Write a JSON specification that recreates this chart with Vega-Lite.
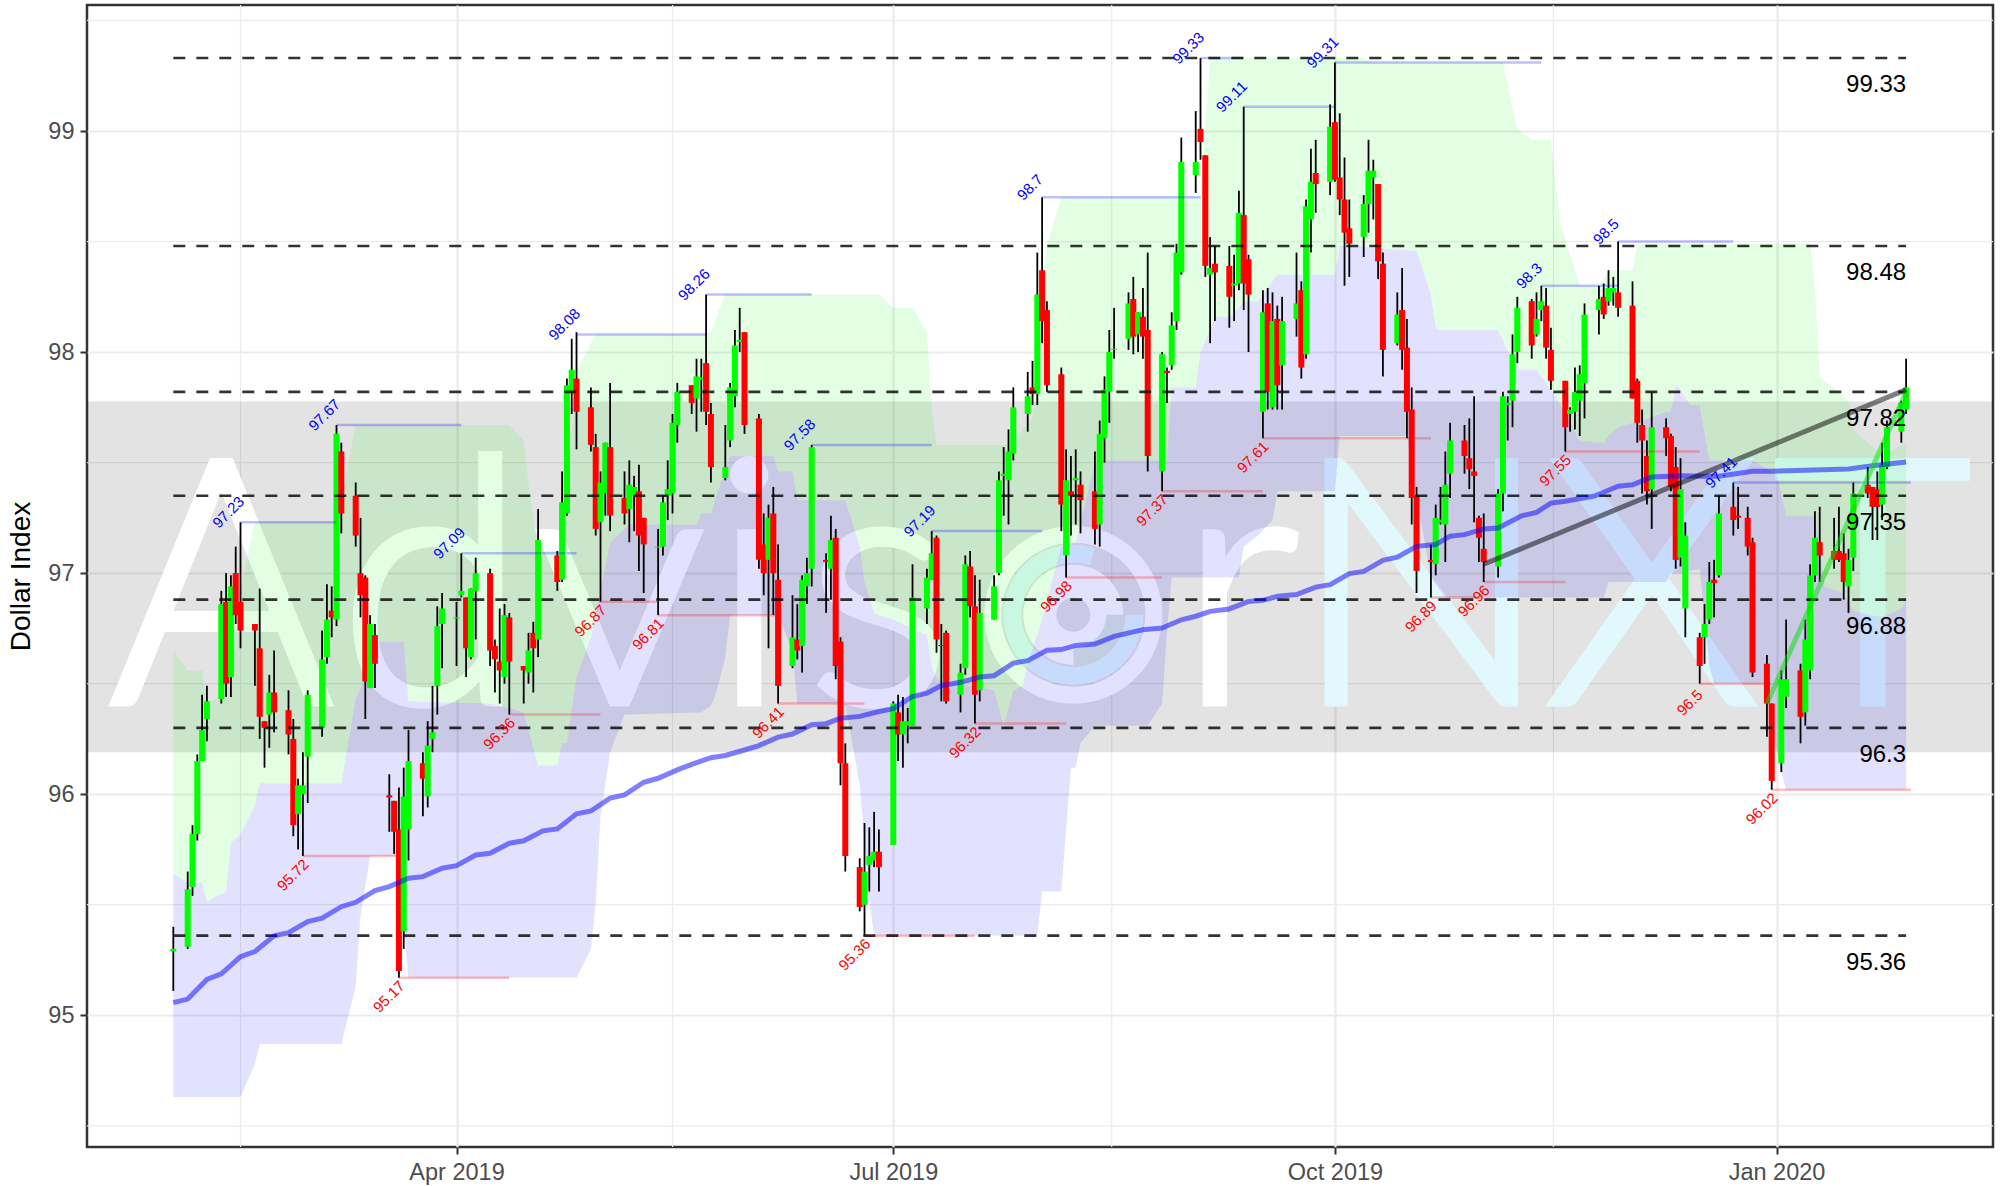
{"$schema":"https://vega.github.io/schema/vega-lite/v6.json","width":1906,"height":1142,"autosize":{"type":"none"},"padding":{"left":87,"top":5,"right":20,"bottom":39},"background":"white","config":{"font":"Liberation Sans","view":{"stroke":"#333333","strokeWidth":2.5}},
"datasets":{
"minorx":[{"t":"2019-02-15"},{"t":"2019-05-16"},{"t":"2019-08-15T12:00:00Z"},{"t":"2019-11-15T12:00:00Z"}],
"minory":[{"v":94.5},{"v":95.5},{"v":96.5},{"v":97.5},{"v":98.5},{"v":99.5}],
"band":[{"lo":96.19,"hi":97.776}],
"letters":[{"t":"2019-02-11","v":96.415,"s":"A","g":"w"},{"t":"2019-03-27","v":96.415,"s":"d","g":"w"},{"t":"2019-05-05","v":96.415,"s":"v","g":"w"},{"t":"2019-06-01","v":96.415,"s":"i","g":"w"},{"t":"2019-06-28","v":96.415,"s":"s","g":"w"},{"t":"2019-09-11","v":96.415,"s":"r","g":"w"},{"t":"2019-10-19","v":96.415,"s":"N","g":"c"},{"t":"2019-12-06","v":96.415,"s":"X","g":"c"},{"t":"2020-01-21","v":96.415,"s":"T","g":"c"}],
"logo":[{"t":"2019-08-07T12:00:00Z","v":96.812}],
"ribbon":[
{"t":"2019-02-01","u":96.65,"m":95.64,"b":94.63},{"t":"2019-02-04","u":96.56,"m":95.6,"b":94.63},{"t":"2019-02-07","u":96.56,"m":95.6,"b":94.63},{"t":"2019-02-08","u":96.42,"m":95.51,"b":94.63},{"t":"2019-02-10","u":96.43,"m":95.54,"b":94.63},{"t":"2019-02-12","u":96.63,"m":95.56,"b":94.63},{"t":"2019-02-13","u":96.73,"m":95.78,"b":94.63},{"t":"2019-02-15","u":96.93,"m":95.82,"b":94.63},{"t":"2019-02-18","u":97.23,"m":95.95,"b":94.78},{"t":"2019-02-19","u":97.23,"m":96.05,"b":94.87},{"t":"2019-03-07","u":97.23,"m":96.05,"b":94.87},{"t":"2019-03-08","u":97.34,"m":96.05,"b":94.87},{"t":"2019-03-11","u":97.67,"m":96.43,"b":95.13},{"t":"2019-03-12","u":97.67,"m":96.48,"b":95.45},{"t":"2019-03-14","u":97.67,"m":96.59,"b":95.72},{"t":"2019-03-16","u":97.67,"m":96.69,"b":95.72},{"t":"2019-03-20","u":97.67,"m":96.69,"b":95.72},{"t":"2019-03-21","u":97.67,"m":96.69,"b":95.4},{"t":"2019-03-22","u":97.67,"m":96.42,"b":95.17},{"t":"2019-04-08","u":97.67,"m":96.41,"b":95.17},{"t":"2019-04-12","u":97.67,"m":96.39,"b":95.17},{"t":"2019-04-15","u":97.6,"m":96.37,"b":95.17},{"t":"2019-04-16","u":97.4,"m":96.29,"b":95.17},{"t":"2019-04-18","u":97.1,"m":96.13,"b":95.17},{"t":"2019-04-22","u":97.1,"m":96.13,"b":95.17},{"t":"2019-04-23","u":97.1,"m":96.23,"b":95.17},{"t":"2019-04-24","u":97.37,"m":96.23,"b":95.17},{"t":"2019-04-26","u":97.91,"m":96.53,"b":95.17},{"t":"2019-04-29","u":98.04,"m":96.71,"b":95.3},{"t":"2019-04-30","u":98.08,"m":96.82,"b":95.51},{"t":"2019-05-01","u":98.08,"m":96.92,"b":95.9},{"t":"2019-05-03","u":98.08,"m":97.14,"b":96.19},{"t":"2019-05-06","u":98.08,"m":97.2,"b":96.36},{"t":"2019-05-07","u":98.08,"m":97.22,"b":96.36},{"t":"2019-05-21","u":98.08,"m":97.22,"b":96.37},{"t":"2019-05-22","u":98.08,"m":97.27,"b":96.37},{"t":"2019-05-24","u":98.09,"m":97.27,"b":96.4},{"t":"2019-05-25","u":98.15,"m":97.34,"b":96.45},{"t":"2019-05-27","u":98.26,"m":97.47,"b":96.62},{"t":"2019-05-28","u":98.26,"m":97.53,"b":96.81},{"t":"2019-06-06","u":98.26,"m":97.53,"b":96.81},{"t":"2019-06-07","u":98.26,"m":97.46,"b":96.81},{"t":"2019-06-10","u":98.26,"m":97.46,"b":96.65},{"t":"2019-06-11","u":98.26,"m":97.33,"b":96.41},{"t":"2019-06-21","u":98.26,"m":97.33,"b":96.41},{"t":"2019-06-24","u":98.26,"m":97.12,"b":96.04},{"t":"2019-06-25","u":98.26,"m":96.96,"b":95.78},{"t":"2019-06-26","u":98.26,"m":96.89,"b":95.52},{"t":"2019-06-27","u":98.26,"m":96.82,"b":95.36},{"t":"2019-06-28","u":98.26,"m":96.81,"b":95.36},{"t":"2019-07-01","u":98.2,"m":96.79,"b":95.36},{"t":"2019-07-03","u":98.2,"m":96.77,"b":95.36},{"t":"2019-07-05","u":98.2,"m":96.75,"b":95.36},{"t":"2019-07-08","u":98.09,"m":96.72,"b":95.36},{"t":"2019-07-09","u":97.74,"m":96.58,"b":95.36},{"t":"2019-07-10","u":97.58,"m":96.52,"b":95.36},{"t":"2019-07-22","u":97.58,"m":96.47,"b":95.36},{"t":"2019-07-24","u":97.58,"m":96.31,"b":95.36},{"t":"2019-07-25","u":97.58,"m":96.39,"b":95.36},{"t":"2019-07-26","u":97.6,"m":96.47,"b":95.36},{"t":"2019-07-27","u":97.62,"m":96.48,"b":95.36},{"t":"2019-07-28","u":97.65,"m":96.49,"b":95.36},{"t":"2019-07-29","u":97.67,"m":96.59,"b":95.36},{"t":"2019-07-30","u":97.7,"m":96.66,"b":95.36},{"t":"2019-07-31","u":97.85,"m":96.72,"b":95.36},{"t":"2019-08-01","u":98.3,"m":96.79,"b":95.56},{"t":"2019-08-02","u":98.48,"m":96.88,"b":95.56},{"t":"2019-08-05","u":98.7,"m":97.12,"b":95.56},{"t":"2019-08-07","u":98.7,"m":97.13,"b":96.12},{"t":"2019-08-08","u":98.7,"m":97.14,"b":96.12},{"t":"2019-08-09","u":98.7,"m":97.23,"b":96.23},{"t":"2019-08-12","u":98.7,"m":97.5,"b":96.31},{"t":"2019-08-15","u":98.7,"m":97.51,"b":96.31},{"t":"2019-08-23","u":98.7,"m":97.51,"b":96.31},{"t":"2019-08-26","u":98.7,"m":97.51,"b":96.41},{"t":"2019-08-27","u":98.7,"m":97.51,"b":96.73},{"t":"2019-08-28","u":98.7,"m":97.84,"b":96.98},{"t":"2019-09-02","u":98.7,"m":97.84,"b":96.98},{"t":"2019-09-03","u":98.7,"m":98.0,"b":96.98},{"t":"2019-09-05","u":99.33,"m":98.1,"b":96.98},{"t":"2019-09-06","u":99.33,"m":98.16,"b":96.98},{"t":"2019-09-09","u":99.33,"m":98.16,"b":96.98},{"t":"2019-09-11","u":99.33,"m":98.2,"b":96.98},{"t":"2019-09-12","u":99.33,"m":98.23,"b":97.12},{"t":"2019-09-15","u":99.33,"m":98.23,"b":97.17},{"t":"2019-09-18","u":99.33,"m":98.32,"b":97.24},{"t":"2019-09-19","u":99.33,"m":98.35,"b":97.37},{"t":"2019-10-01","u":99.33,"m":98.35,"b":97.37},{"t":"2019-10-02","u":99.33,"m":98.48,"b":97.62},{"t":"2019-10-07","u":99.33,"m":98.48,"b":97.62},{"t":"2019-10-09","u":99.31,"m":98.47,"b":97.62},{"t":"2019-10-16","u":99.31,"m":98.46,"b":97.62},{"t":"2019-10-18","u":99.31,"m":98.46,"b":97.35},{"t":"2019-10-21","u":99.31,"m":98.26,"b":96.98},{"t":"2019-10-22","u":99.31,"m":98.11,"b":96.95},{"t":"2019-10-23","u":99.31,"m":98.1,"b":96.92},{"t":"2019-10-24","u":99.31,"m":98.1,"b":96.89},{"t":"2019-11-04","u":99.31,"m":98.1,"b":96.89},{"t":"2019-11-05","u":99.31,"m":98.05,"b":96.89},{"t":"2019-11-07","u":99.1,"m":97.96,"b":96.89},{"t":"2019-11-08","u":99.01,"m":97.92,"b":96.89},{"t":"2019-11-11","u":98.96,"m":97.92,"b":96.89},{"t":"2019-11-12","u":98.96,"m":97.92,"b":96.89},{"t":"2019-11-15","u":98.96,"m":97.83,"b":96.89},{"t":"2019-11-16","u":98.75,"m":97.8,"b":96.89},{"t":"2019-11-17","u":98.58,"m":97.76,"b":96.89},{"t":"2019-11-20","u":98.37,"m":97.64,"b":96.89},{"t":"2019-11-21","u":98.3,"m":97.6,"b":96.89},{"t":"2019-11-25","u":98.3,"m":97.59,"b":96.89},{"t":"2019-11-26","u":98.33,"m":97.59,"b":96.89},{"t":"2019-11-27","u":98.37,"m":97.62,"b":96.96},{"t":"2019-11-29","u":98.37,"m":97.66,"b":96.96},{"t":"2019-12-02","u":98.37,"m":97.68,"b":96.96},{"t":"2019-12-03","u":98.49,"m":97.68,"b":96.96},{"t":"2019-12-09","u":98.49,"m":97.73,"b":96.96},{"t":"2019-12-10","u":98.49,"m":97.73,"b":97.0},{"t":"2019-12-11","u":98.49,"m":97.85,"b":97.0},{"t":"2019-12-12","u":98.49,"m":97.83,"b":97.0},{"t":"2019-12-14","u":98.49,"m":97.76,"b":97.01},{"t":"2019-12-16","u":98.49,"m":97.76,"b":97.02},{"t":"2019-12-18","u":98.49,"m":97.51,"b":96.58},{"t":"2019-12-19","u":98.49,"m":97.51,"b":96.5},{"t":"2019-12-27","u":98.49,"m":97.51,"b":96.5},{"t":"2019-12-30","u":98.49,"m":97.47,"b":96.5},{"t":"2019-12-31","u":98.49,"m":97.46,"b":96.3},{"t":"2020-01-01","u":98.49,"m":97.45,"b":96.2},{"t":"2020-01-02","u":98.49,"m":97.36,"b":96.1},{"t":"2020-01-03","u":98.49,"m":97.26,"b":96.02},{"t":"2020-01-08","u":98.49,"m":97.26,"b":96.02},{"t":"2020-01-09","u":98.3,"m":97.26,"b":96.02},{"t":"2020-01-10","u":97.89,"m":97.1,"b":96.02},{"t":"2020-01-11","u":97.87,"m":96.94,"b":96.02},{"t":"2020-01-15","u":97.8,"m":96.91,"b":96.02},{"t":"2020-01-16","u":97.78,"m":96.87,"b":96.02},{"t":"2020-01-17","u":97.65,"m":96.83,"b":96.02},{"t":"2020-01-21","u":97.57,"m":96.81,"b":96.02},{"t":"2020-01-23","u":97.53,"m":96.8,"b":96.02},{"t":"2020-01-27","u":97.58,"m":96.84,"b":96.02},{"t":"2020-01-28","u":97.6,"m":96.88,"b":96.02}],
"candles":[
{"t":"2019-02-01","o":95.29,"h":95.4,"l":95.11,"c":95.3,"s":"u"},{"t":"2019-02-04","o":95.31,"h":95.65,"l":95.3,"c":95.57,"s":"u"},{"t":"2019-02-05","o":95.58,"h":95.86,"l":95.54,"c":95.82,"s":"u"},{"t":"2019-02-06","o":95.82,"h":96.18,"l":95.79,"c":96.15,"s":"u"},{"t":"2019-02-07","o":96.15,"h":96.45,"l":96.15,"c":96.29,"s":"u"},{"t":"2019-02-08","o":96.34,"h":96.49,"l":96.24,"c":96.42,"s":"u"},
{"t":"2019-02-11","o":96.43,"h":96.92,"l":96.41,"c":96.86,"s":"u"},{"t":"2019-02-12","o":96.87,"h":97.0,"l":96.44,"c":96.5,"s":"d"},{"t":"2019-02-13","o":96.53,"h":96.99,"l":96.44,"c":96.94,"s":"u"},{"t":"2019-02-14","o":97.0,"h":97.12,"l":96.77,"c":96.81,"s":"d"},{"t":"2019-02-15","o":96.87,"h":97.23,"l":96.66,"c":96.74,"s":"d"},
{"t":"2019-02-18","o":96.77,"h":96.77,"l":96.49,"c":96.74,"s":"d"},{"t":"2019-02-19","o":96.66,"h":96.93,"l":96.25,"c":96.35,"s":"d"},{"t":"2019-02-20","o":96.33,"h":96.33,"l":96.12,"c":96.3,"s":"d"},{"t":"2019-02-21","o":96.36,"h":96.54,"l":96.21,"c":96.46,"s":"u"},{"t":"2019-02-22","o":96.46,"h":96.65,"l":96.28,"c":96.37,"s":"d"},
{"t":"2019-02-25","o":96.38,"h":96.47,"l":96.18,"c":96.27,"s":"d"},{"t":"2019-02-26","o":96.25,"h":96.34,"l":95.81,"c":95.86,"s":"d"},{"t":"2019-02-27","o":95.91,"h":96.07,"l":95.75,"c":96.04,"s":"u"},{"t":"2019-02-28","o":96.0,"h":96.19,"l":95.72,"c":96.04,"s":"u"},{"t":"2019-03-01","o":96.17,"h":96.47,"l":95.96,"c":96.45,"s":"u"},
{"t":"2019-03-04","o":96.3,"h":96.74,"l":96.26,"c":96.61,"s":"u"},{"t":"2019-03-05","o":96.62,"h":96.95,"l":96.59,"c":96.79,"s":"u"},{"t":"2019-03-06","o":96.83,"h":96.94,"l":96.71,"c":96.8,"s":"d"},{"t":"2019-03-07","o":96.79,"h":97.67,"l":96.76,"c":97.63,"s":"u"},{"t":"2019-03-08","o":97.55,"h":97.59,"l":97.18,"c":97.27,"s":"d"},
{"t":"2019-03-11","o":97.35,"h":97.41,"l":97.12,"c":97.17,"s":"d"},{"t":"2019-03-12","o":97.0,"h":97.25,"l":96.8,"c":96.9,"s":"d"},{"t":"2019-03-13","o":96.98,"h":96.99,"l":96.34,"c":96.51,"s":"d"},{"t":"2019-03-14","o":96.48,"h":96.81,"l":96.48,"c":96.77,"s":"u"},{"t":"2019-03-15","o":96.72,"h":96.77,"l":96.48,"c":96.59,"s":"d"},
{"t":"2019-03-18","o":95.995,"h":96.09,"l":95.83,"c":95.985,"s":"d"},{"t":"2019-03-19","o":95.97,"h":95.97,"l":95.73,"c":95.83,"s":"d"},{"t":"2019-03-20","o":95.84,"h":96.03,"l":95.17,"c":95.2,"s":"d"},{"t":"2019-03-21","o":95.38,"h":96.12,"l":95.3,"c":95.99,"s":"u"},{"t":"2019-03-22","o":95.84,"h":96.29,"l":95.7,"c":96.15,"s":"u"},
{"t":"2019-03-25","o":96.14,"h":96.19,"l":95.9,"c":96.07,"s":"d"},{"t":"2019-03-26","o":95.99,"h":96.33,"l":95.94,"c":96.22,"s":"u"},{"t":"2019-03-27","o":96.25,"h":96.49,"l":96.19,"c":96.28,"s":"u"},{"t":"2019-03-28","o":96.49,"h":96.85,"l":96.36,"c":96.76,"s":"u"},{"t":"2019-03-29","o":96.77,"h":96.91,"l":96.57,"c":96.84,"s":"u"},
{"t":"2019-04-01","o":96.795,"h":96.87,"l":96.58,"c":96.8,"s":"u"},{"t":"2019-04-02","o":96.9,"h":97.09,"l":96.89,"c":96.92,"s":"u"},{"t":"2019-04-03","o":96.89,"h":96.89,"l":96.53,"c":96.66,"s":"d"},{"t":"2019-04-04","o":96.62,"h":96.93,"l":96.61,"c":96.93,"s":"u"},{"t":"2019-04-05","o":96.92,"h":97.07,"l":96.7,"c":97.0,"s":"u"},
{"t":"2019-04-08","o":97.0,"h":97.02,"l":96.58,"c":96.65,"s":"d"},{"t":"2019-04-09","o":96.67,"h":96.7,"l":96.46,"c":96.61,"s":"d"},{"t":"2019-04-10","o":96.6,"h":96.84,"l":96.41,"c":96.56,"s":"d"},{"t":"2019-04-11","o":96.53,"h":96.86,"l":96.5,"c":96.81,"s":"u"},{"t":"2019-04-12","o":96.8,"h":96.82,"l":96.36,"c":96.6,"s":"d"},
{"t":"2019-04-15","o":96.58,"h":96.58,"l":96.41,"c":96.56,"s":"d"},{"t":"2019-04-16","o":96.55,"h":96.73,"l":96.5,"c":96.65,"s":"u"},{"t":"2019-04-17","o":96.73,"h":96.78,"l":96.46,"c":96.66,"s":"d"},{"t":"2019-04-18","o":96.7,"h":97.29,"l":96.62,"c":97.15,"s":"u"},
{"t":"2019-04-22","o":97.08,"h":97.1,"l":96.92,"c":96.96,"s":"d"},{"t":"2019-04-23","o":96.97,"h":97.46,"l":96.96,"c":97.32,"s":"u"},{"t":"2019-04-24","o":97.27,"h":97.88,"l":97.26,"c":97.85,"s":"u"},{"t":"2019-04-25","o":97.82,"h":98.06,"l":97.72,"c":97.92,"s":"u"},{"t":"2019-04-26","o":97.88,"h":98.09,"l":97.56,"c":97.73,"s":"d"},
{"t":"2019-04-29","o":97.75,"h":97.84,"l":97.55,"c":97.58,"s":"d"},{"t":"2019-04-30","o":97.57,"h":97.63,"l":97.17,"c":97.2,"s":"d"},{"t":"2019-05-01","o":97.23,"h":97.46,"l":96.87,"c":97.41,"s":"u"},{"t":"2019-05-02","o":97.36,"h":97.59,"l":97.26,"c":97.59,"s":"u"},{"t":"2019-05-03","o":97.57,"h":97.86,"l":97.19,"c":97.26,"s":"d"},
{"t":"2019-05-06","o":97.34,"h":97.46,"l":97.22,"c":97.27,"s":"d"},{"t":"2019-05-07","o":97.29,"h":97.51,"l":97.14,"c":97.4,"s":"u"},{"t":"2019-05-08","o":97.35,"h":97.44,"l":97.19,"c":97.39,"s":"u"},{"t":"2019-05-09","o":97.37,"h":97.49,"l":97.01,"c":97.17,"s":"d"},{"t":"2019-05-10","o":97.25,"h":97.25,"l":96.91,"c":97.13,"s":"d"},
{"t":"2019-05-13","o":97.115,"h":97.2,"l":96.81,"c":97.12,"s":"u"},{"t":"2019-05-14","o":97.12,"h":97.35,"l":97.08,"c":97.32,"s":"u"},{"t":"2019-05-15","o":97.35,"h":97.51,"l":97.24,"c":97.38,"s":"u"},{"t":"2019-05-16","o":97.36,"h":97.72,"l":97.27,"c":97.68,"s":"u"},{"t":"2019-05-17","o":97.67,"h":97.86,"l":97.59,"c":97.82,"s":"u"},
{"t":"2019-05-20","o":97.85,"h":97.85,"l":97.72,"c":97.77,"s":"d"},{"t":"2019-05-21","o":97.79,"h":97.97,"l":97.64,"c":97.89,"s":"u"},{"t":"2019-05-22","o":97.875,"h":97.97,"l":97.73,"c":97.885,"s":"u"},{"t":"2019-05-23","o":97.95,"h":98.26,"l":97.67,"c":97.73,"s":"d"},{"t":"2019-05-24","o":97.72,"h":97.77,"l":97.41,"c":97.48,"s":"d"},
{"t":"2019-05-27","o":97.43,"h":97.67,"l":97.42,"c":97.48,"s":"u"},{"t":"2019-05-28","o":97.6,"h":97.86,"l":97.57,"c":97.84,"s":"u"},{"t":"2019-05-29","o":97.8,"h":98.1,"l":97.75,"c":98.03,"s":"u"},{"t":"2019-05-30","o":98.045,"h":98.2,"l":98.0,"c":98.055,"s":"u"},{"t":"2019-05-31","o":98.09,"h":98.09,"l":97.63,"c":97.67,"s":"d"},
{"t":"2019-06-03","o":97.7,"h":97.72,"l":97.02,"c":97.06,"s":"d"},{"t":"2019-06-04","o":97.13,"h":97.27,"l":96.9,"c":97.0,"s":"d"},{"t":"2019-06-05","o":97.06,"h":97.31,"l":96.66,"c":97.25,"s":"u"},{"t":"2019-06-06","o":97.27,"h":97.39,"l":96.81,"c":97.0,"s":"d"},{"t":"2019-06-07","o":96.97,"h":97.13,"l":96.41,"c":96.49,"s":"d"},
{"t":"2019-06-10","o":96.58,"h":96.9,"l":96.57,"c":96.71,"s":"u"},{"t":"2019-06-11","o":96.7,"h":96.86,"l":96.61,"c":96.65,"s":"d"},{"t":"2019-06-12","o":96.67,"h":96.99,"l":96.55,"c":96.97,"s":"u"},{"t":"2019-06-13","o":96.94,"h":97.07,"l":96.86,"c":97.0,"s":"u"},{"t":"2019-06-14","o":97.02,"h":97.58,"l":96.94,"c":97.57,"s":"u"},
{"t":"2019-06-17","o":97.06,"h":97.09,"l":96.82,"c":97.05,"s":"d"},{"t":"2019-06-18","o":97.02,"h":97.26,"l":96.88,"c":97.15,"s":"u"},{"t":"2019-06-19","o":97.16,"h":97.2,"l":96.52,"c":96.58,"s":"d"},{"t":"2019-06-20","o":96.69,"h":96.71,"l":96.04,"c":96.14,"s":"d"},{"t":"2019-06-21","o":96.14,"h":96.23,"l":95.65,"c":95.72,"s":"d"},
{"t":"2019-06-24","o":95.67,"h":95.71,"l":95.47,"c":95.49,"s":"d"},{"t":"2019-06-25","o":95.5,"h":95.87,"l":95.36,"c":95.65,"s":"u"},{"t":"2019-06-26","o":95.68,"h":95.85,"l":95.56,"c":95.72,"s":"u"},{"t":"2019-06-27","o":95.7,"h":95.92,"l":95.67,"c":95.74,"s":"u"},{"t":"2019-06-28","o":95.74,"h":95.84,"l":95.56,"c":95.67,"s":"d"},
{"t":"2019-07-01","o":95.77,"h":96.42,"l":95.77,"c":96.41,"s":"u"},{"t":"2019-07-02","o":96.37,"h":96.45,"l":96.15,"c":96.27,"s":"d"},{"t":"2019-07-03","o":96.27,"h":96.44,"l":96.12,"c":96.33,"s":"u"},{"t":"2019-07-04","o":96.31,"h":96.39,"l":96.23,"c":96.33,"s":"u"},{"t":"2019-07-05","o":96.31,"h":97.04,"l":96.31,"c":96.89,"s":"u"},
{"t":"2019-07-08","o":96.84,"h":97.02,"l":96.77,"c":96.98,"s":"u"},{"t":"2019-07-09","o":96.97,"h":97.19,"l":96.97,"c":97.09,"s":"u"},{"t":"2019-07-10","o":97.16,"h":97.17,"l":96.64,"c":96.7,"s":"d"},{"t":"2019-07-11","o":96.675,"h":96.77,"l":96.42,"c":96.67,"s":"d"},{"t":"2019-07-12","o":96.73,"h":96.74,"l":96.41,"c":96.42,"s":"d"},
{"t":"2019-07-15","o":96.45,"h":96.59,"l":96.37,"c":96.55,"s":"u"},{"t":"2019-07-16","o":96.57,"h":97.08,"l":96.54,"c":97.04,"s":"u"},{"t":"2019-07-17","o":97.03,"h":97.1,"l":96.8,"c":96.85,"s":"d"},{"t":"2019-07-18","o":96.85,"h":96.99,"l":96.32,"c":96.45,"s":"d"},{"t":"2019-07-19","o":96.47,"h":96.97,"l":96.42,"c":96.82,"s":"u"},
{"t":"2019-07-22","o":96.79,"h":96.99,"l":96.79,"c":96.94,"s":"u"},{"t":"2019-07-23","o":97.0,"h":97.46,"l":96.99,"c":97.42,"s":"u"},{"t":"2019-07-24","o":97.44,"h":97.57,"l":97.26,"c":97.45,"s":"u"},{"t":"2019-07-25","o":97.42,"h":97.65,"l":97.22,"c":97.55,"s":"u"},{"t":"2019-07-26","o":97.54,"h":97.84,"l":97.51,"c":97.75,"s":"u"},
{"t":"2019-07-29","o":97.72,"h":97.91,"l":97.64,"c":97.8,"s":"u"},{"t":"2019-07-30","o":97.84,"h":97.96,"l":97.76,"c":97.81,"s":"d"},{"t":"2019-07-31","o":97.81,"h":98.45,"l":97.76,"c":98.26,"s":"u"},{"t":"2019-08-01","o":98.37,"h":98.7,"l":98.04,"c":98.14,"s":"d"},{"t":"2019-08-02","o":98.19,"h":98.23,"l":97.82,"c":97.85,"s":"d"},
{"t":"2019-08-05","o":97.9,"h":97.93,"l":97.19,"c":97.31,"s":"d"},{"t":"2019-08-06","o":97.08,"h":97.56,"l":96.98,"c":97.42,"s":"u"},{"t":"2019-08-07","o":97.37,"h":97.53,"l":97.17,"c":97.35,"s":"d"},{"t":"2019-08-08","o":97.42,"h":97.56,"l":97.22,"c":97.43,"s":"u"},{"t":"2019-08-09","o":97.4,"h":97.46,"l":97.18,"c":97.33,"s":"d"},
{"t":"2019-08-12","o":97.37,"h":97.55,"l":97.13,"c":97.2,"s":"d"},{"t":"2019-08-13","o":97.22,"h":97.69,"l":97.12,"c":97.63,"s":"u"},{"t":"2019-08-14","o":97.61,"h":97.89,"l":97.5,"c":97.83,"s":"u"},{"t":"2019-08-15","o":97.82,"h":98.1,"l":97.68,"c":98.0,"s":"u"},{"t":"2019-08-16","o":98.01,"h":98.2,"l":97.97,"c":98.015,"s":"u"},
{"t":"2019-08-19","o":98.06,"h":98.27,"l":98.01,"c":98.22,"s":"u"},{"t":"2019-08-20","o":98.24,"h":98.34,"l":97.99,"c":98.07,"s":"d"},{"t":"2019-08-21","o":98.08,"h":98.18,"l":98.0,"c":98.18,"s":"u"},{"t":"2019-08-22","o":98.16,"h":98.29,"l":97.97,"c":98.07,"s":"d"},{"t":"2019-08-23","o":98.1,"h":98.45,"l":97.46,"c":97.53,"s":"d"},
{"t":"2019-08-26","o":97.46,"h":98.0,"l":97.37,"c":97.99,"s":"u"},{"t":"2019-08-27","o":97.915,"h":97.93,"l":97.77,"c":97.905,"s":"d"},{"t":"2019-08-28","o":97.94,"h":98.18,"l":97.92,"c":98.12,"s":"u"},{"t":"2019-08-29","o":98.14,"h":98.49,"l":98.1,"c":98.45,"s":"u"},{"t":"2019-08-30","o":98.36,"h":98.97,"l":98.35,"c":98.86,"s":"u"},
{"t":"2019-09-02","o":98.8,"h":99.09,"l":98.72,"c":98.86,"s":"u"},{"t":"2019-09-03","o":99.01,"h":99.33,"l":98.87,"c":98.95,"s":"d"},{"t":"2019-09-04","o":98.89,"h":98.89,"l":98.34,"c":98.39,"s":"d"},{"t":"2019-09-05","o":98.35,"h":98.52,"l":98.04,"c":98.38,"s":"u"},{"t":"2019-09-06","o":98.4,"h":98.48,"l":98.14,"c":98.36,"s":"d"},
{"t":"2019-09-09","o":98.39,"h":98.48,"l":98.11,"c":98.25,"s":"d"},{"t":"2019-09-10","o":98.3,"h":98.44,"l":98.14,"c":98.31,"s":"u"},{"t":"2019-09-11","o":98.31,"h":98.73,"l":98.28,"c":98.63,"s":"u"},{"t":"2019-09-12","o":98.62,"h":99.11,"l":98.19,"c":98.31,"s":"d"},{"t":"2019-09-13","o":98.42,"h":98.44,"l":98.0,"c":98.26,"s":"d"},
{"t":"2019-09-16","o":97.73,"h":98.28,"l":97.61,"c":98.18,"s":"u"},{"t":"2019-09-17","o":98.22,"h":98.29,"l":97.74,"c":97.82,"s":"d"},{"t":"2019-09-18","o":97.75,"h":98.27,"l":97.74,"c":98.14,"s":"u"},{"t":"2019-09-19","o":98.15,"h":98.21,"l":97.74,"c":97.85,"s":"d"},{"t":"2019-09-20","o":97.94,"h":98.25,"l":97.74,"c":98.14,"s":"u"},
{"t":"2019-09-23","o":98.15,"h":98.45,"l":98.07,"c":98.22,"s":"u"},{"t":"2019-09-24","o":98.28,"h":98.32,"l":97.88,"c":97.93,"s":"d"},{"t":"2019-09-25","o":97.99,"h":98.69,"l":97.97,"c":98.66,"s":"u"},{"t":"2019-09-26","o":98.6,"h":98.92,"l":98.45,"c":98.77,"s":"u"},{"t":"2019-09-27","o":98.81,"h":98.96,"l":98.63,"c":98.76,"s":"d"},
{"t":"2019-09-30","o":98.77,"h":99.12,"l":98.71,"c":99.02,"s":"u"},{"t":"2019-10-01","o":99.04,"h":99.31,"l":98.77,"c":98.78,"s":"d"},{"t":"2019-10-02","o":98.79,"h":99.08,"l":98.62,"c":98.69,"s":"d"},{"t":"2019-10-03","o":98.69,"h":98.88,"l":98.3,"c":98.54,"s":"d"},{"t":"2019-10-04","o":98.56,"h":98.69,"l":98.34,"c":98.49,"s":"d"},
{"t":"2019-10-07","o":98.52,"h":98.71,"l":98.43,"c":98.67,"s":"u"},{"t":"2019-10-08","o":98.67,"h":98.96,"l":98.54,"c":98.82,"s":"u"},{"t":"2019-10-09","o":98.79,"h":98.87,"l":98.6,"c":98.82,"s":"u"},{"t":"2019-10-10","o":98.76,"h":98.76,"l":98.33,"c":98.41,"s":"d"},{"t":"2019-10-11","o":98.4,"h":98.45,"l":97.89,"c":98.01,"s":"d"},
{"t":"2019-10-14","o":98.04,"h":98.27,"l":98.03,"c":98.17,"s":"u"},{"t":"2019-10-15","o":98.19,"h":98.38,"l":97.92,"c":98.01,"s":"d"},{"t":"2019-10-16","o":98.02,"h":98.15,"l":97.61,"c":97.73,"s":"d"},{"t":"2019-10-17","o":97.74,"h":97.84,"l":97.22,"c":97.34,"s":"d"},{"t":"2019-10-18","o":97.35,"h":97.39,"l":96.91,"c":97.01,"s":"d"},
{"t":"2019-10-21","o":97.06,"h":97.13,"l":96.89,"c":97.05,"s":"d"},{"t":"2019-10-22","o":97.04,"h":97.31,"l":96.99,"c":97.25,"s":"u"},{"t":"2019-10-23","o":97.23,"h":97.39,"l":97.22,"c":97.24,"s":"u"},{"t":"2019-10-24","o":97.22,"h":97.55,"l":97.05,"c":97.4,"s":"u"},{"t":"2019-10-25","o":97.45,"h":97.68,"l":97.34,"c":97.6,"s":"u"},
{"t":"2019-10-28","o":97.6,"h":97.67,"l":97.45,"c":97.53,"s":"d"},{"t":"2019-10-29","o":97.52,"h":97.7,"l":97.38,"c":97.47,"s":"d"},{"t":"2019-10-30","o":97.46,"h":97.8,"l":97.23,"c":97.44,"s":"d"},{"t":"2019-10-31","o":97.25,"h":97.26,"l":97.05,"c":97.16,"s":"d"},{"t":"2019-11-01","o":97.11,"h":97.27,"l":96.96,"c":97.05,"s":"d"},
{"t":"2019-11-04","o":97.03,"h":97.38,"l":96.98,"c":97.36,"s":"u"},{"t":"2019-11-05","o":97.36,"h":97.82,"l":97.28,"c":97.8,"s":"u"},{"t":"2019-11-06","o":97.76,"h":97.8,"l":97.6,"c":97.77,"s":"u"},{"t":"2019-11-07","o":97.78,"h":98.08,"l":97.66,"c":97.99,"s":"u"},{"t":"2019-11-08","o":98.0,"h":98.25,"l":97.95,"c":98.2,"s":"u"},
{"t":"2019-11-11","o":98.23,"h":98.24,"l":97.97,"c":98.03,"s":"d"},{"t":"2019-11-12","o":98.08,"h":98.27,"l":98.07,"c":98.15,"s":"u"},{"t":"2019-11-13","o":98.19,"h":98.3,"l":98.14,"c":98.23,"s":"u"},{"t":"2019-11-14","o":98.21,"h":98.29,"l":97.97,"c":98.02,"s":"d"},{"t":"2019-11-15","o":98.01,"h":98.11,"l":97.83,"c":97.87,"s":"d"},
{"t":"2019-11-18","o":97.87,"h":97.87,"l":97.55,"c":97.66,"s":"d"},{"t":"2019-11-19","o":97.72,"h":97.75,"l":97.64,"c":97.74,"s":"u"},{"t":"2019-11-20","o":97.73,"h":97.93,"l":97.65,"c":97.82,"s":"u"},{"t":"2019-11-21","o":97.78,"h":97.94,"l":97.62,"c":97.9,"s":"u"},{"t":"2019-11-22","o":97.86,"h":98.22,"l":97.7,"c":98.17,"s":"u"},
{"t":"2019-11-25","o":98.19,"h":98.3,"l":98.08,"c":98.24,"s":"u"},{"t":"2019-11-26","o":98.25,"h":98.31,"l":98.15,"c":98.17,"s":"d"},{"t":"2019-11-27","o":98.23,"h":98.37,"l":98.21,"c":98.29,"s":"u"},{"t":"2019-11-28","o":98.27,"h":98.34,"l":98.21,"c":98.29,"s":"u"},{"t":"2019-11-29","o":98.27,"h":98.5,"l":98.16,"c":98.2,"s":"d"},
{"t":"2019-12-02","o":98.21,"h":98.32,"l":97.79,"c":97.79,"s":"d"},{"t":"2019-12-03","o":97.87,"h":97.88,"l":97.59,"c":97.68,"s":"d"},{"t":"2019-12-04","o":97.67,"h":97.74,"l":97.36,"c":97.6,"s":"d"},{"t":"2019-12-05","o":97.53,"h":97.6,"l":97.31,"c":97.37,"s":"d"},{"t":"2019-12-06","o":97.38,"h":97.82,"l":97.2,"c":97.66,"s":"u"},
{"t":"2019-12-09","o":97.66,"h":97.7,"l":97.53,"c":97.61,"s":"d"},{"t":"2019-12-10","o":97.62,"h":97.63,"l":97.37,"c":97.39,"s":"d"},{"t":"2019-12-11","o":97.48,"h":97.57,"l":97.02,"c":97.06,"s":"d"},{"t":"2019-12-12","o":97.07,"h":97.52,"l":97.03,"c":97.38,"s":"u"},{"t":"2019-12-13","o":96.84,"h":97.23,"l":96.71,"c":97.17,"s":"u"},
{"t":"2019-12-16","o":96.71,"h":96.73,"l":96.5,"c":96.58,"s":"d"},{"t":"2019-12-17","o":96.71,"h":96.86,"l":96.59,"c":96.77,"s":"u"},{"t":"2019-12-18","o":96.79,"h":97.05,"l":96.77,"c":96.96,"s":"u"},{"t":"2019-12-19","o":96.97,"h":97.06,"l":96.8,"c":96.955,"s":"d"},{"t":"2019-12-20","o":96.99,"h":97.35,"l":96.98,"c":97.27,"s":"u"},
{"t":"2019-12-23","o":97.3,"h":97.41,"l":97.17,"c":97.24,"s":"d"},{"t":"2019-12-24","o":97.26,"h":97.39,"l":97.2,"c":97.25,"s":"d"},{"t":"2019-12-26","o":97.25,"h":97.3,"l":97.08,"c":97.12,"s":"d"},{"t":"2019-12-27","o":97.14,"h":97.16,"l":96.53,"c":96.55,"s":"d"},
{"t":"2019-12-30","o":96.59,"h":96.63,"l":96.26,"c":96.41,"s":"d"},{"t":"2019-12-31","o":96.41,"h":96.41,"l":96.02,"c":96.06,"s":"d"},{"t":"2020-01-02","o":96.14,"h":96.56,"l":96.1,"c":96.52,"s":"u"},{"t":"2020-01-03","o":96.44,"h":96.79,"l":96.39,"c":96.52,"s":"u"},
{"t":"2020-01-06","o":96.56,"h":96.59,"l":96.23,"c":96.35,"s":"d"},{"t":"2020-01-07","o":96.37,"h":96.79,"l":96.31,"c":96.7,"s":"u"},{"t":"2020-01-08","o":96.56,"h":97.04,"l":96.52,"c":96.99,"s":"u"},{"t":"2020-01-09","o":96.99,"h":97.28,"l":96.96,"c":97.16,"s":"u"},{"t":"2020-01-10","o":97.14,"h":97.3,"l":96.96,"c":97.08,"s":"d"},
{"t":"2020-01-13","o":97.1,"h":97.25,"l":97.02,"c":97.06,"s":"d"},{"t":"2020-01-14","o":97.1,"h":97.3,"l":97.05,"c":97.06,"s":"d"},{"t":"2020-01-15","o":97.09,"h":97.18,"l":96.88,"c":96.96,"s":"d"},{"t":"2020-01-16","o":96.94,"h":97.11,"l":96.82,"c":97.06,"s":"u"},{"t":"2020-01-17","o":97.07,"h":97.41,"l":97.01,"c":97.36,"s":"u"},
{"t":"2020-01-20","o":97.4,"h":97.48,"l":97.34,"c":97.36,"s":"d"},{"t":"2020-01-21","o":97.39,"h":97.39,"l":97.15,"c":97.3,"s":"d"},{"t":"2020-01-22","o":97.38,"h":97.46,"l":97.15,"c":97.3,"s":"d"},{"t":"2020-01-23","o":97.31,"h":97.59,"l":97.24,"c":97.49,"s":"u"},{"t":"2020-01-24","o":97.48,"h":97.69,"l":97.47,"c":97.66,"s":"u"},
{"t":"2020-01-27","o":97.64,"h":97.78,"l":97.59,"c":97.77,"s":"u"},{"t":"2020-01-28","o":97.74,"h":97.97,"l":97.72,"c":97.84,"s":"u"}],
"pivots":[
{"t":"2019-02-15","t2":"2019-03-07","v":97.23,"k":"hi","n":"97.23"},{"t":"2019-03-07","t2":"2019-04-02","v":97.67,"k":"hi","n":"97.67"},{"t":"2019-04-02","t2":"2019-04-26","v":97.09,"k":"hi","n":"97.09"},{"t":"2019-04-26","t2":"2019-05-23","v":98.08,"k":"hi","n":"98.08"},{"t":"2019-05-23","t2":"2019-06-14","v":98.26,"k":"hi","n":"98.26"},{"t":"2019-06-14","t2":"2019-07-09","v":97.58,"k":"hi","n":"97.58"},{"t":"2019-07-09","t2":"2019-08-01","v":97.19,"k":"hi","n":"97.19"},{"t":"2019-08-01","t2":"2019-09-03","v":98.7,"k":"hi","n":"98.7"},{"t":"2019-09-03","t2":"2019-09-12","v":99.33,"k":"hi","n":"99.33"},{"t":"2019-09-12","t2":"2019-10-01","v":99.11,"k":"hi","n":"99.11"},{"t":"2019-10-01","t2":"2019-11-13","v":99.31,"k":"hi","n":"99.31"},{"t":"2019-11-13","t2":"2019-11-29","v":98.3,"k":"hi","n":"98.3"},{"t":"2019-11-29","t2":"2019-12-23","v":98.5,"k":"hi","n":"98.5"},{"t":"2019-12-23","t2":"2020-01-29","v":97.41,"k":"hi","n":"97.41"},
{"t":"2019-02-28","t2":"2019-03-20","v":95.72,"k":"lo","n":"95.72"},{"t":"2019-03-20","t2":"2019-04-12","v":95.17,"k":"lo","n":"95.17"},{"t":"2019-04-12","t2":"2019-05-01","v":96.36,"k":"lo","n":"96.36"},{"t":"2019-05-01","t2":"2019-05-13","v":96.87,"k":"lo","n":"96.87"},{"t":"2019-05-13","t2":"2019-06-07","v":96.81,"k":"lo","n":"96.81"},{"t":"2019-06-07","t2":"2019-06-25","v":96.41,"k":"lo","n":"96.41"},{"t":"2019-06-25","t2":"2019-07-18","v":95.36,"k":"lo","n":"95.36"},{"t":"2019-07-18","t2":"2019-08-06","v":96.32,"k":"lo","n":"96.32"},{"t":"2019-08-06","t2":"2019-08-26","v":96.98,"k":"lo","n":"96.98"},{"t":"2019-08-26","t2":"2019-09-16","v":97.37,"k":"lo","n":"97.37"},{"t":"2019-09-16","t2":"2019-10-21","v":97.61,"k":"lo","n":"97.61"},{"t":"2019-10-21","t2":"2019-11-01","v":96.89,"k":"lo","n":"96.89"},{"t":"2019-11-01","t2":"2019-11-18","v":96.96,"k":"lo","n":"96.96"},{"t":"2019-11-18","t2":"2019-12-16","v":97.55,"k":"lo","n":"97.55"},{"t":"2019-12-16","t2":"2019-12-31","v":96.5,"k":"lo","n":"96.5"},{"t":"2019-12-31","t2":"2020-01-29","v":96.02,"k":"lo","n":"96.02"}],
"levels":[{"t":"2019-02-01","t2":"2020-01-28","v":95.36},{"t":"2019-02-01","t2":"2020-01-28","v":96.3},{"t":"2019-02-01","t2":"2020-01-28","v":96.88},{"t":"2019-02-01","t2":"2020-01-28","v":97.35},{"t":"2019-02-01","t2":"2020-01-28","v":97.82},{"t":"2019-02-01","t2":"2020-01-28","v":98.48},{"t":"2019-02-01","t2":"2020-01-28","v":99.33}],
"levelLabels":[{"t":"2020-01-28","v":95.36,"n":"95.36"},{"t":"2020-01-28","v":96.3,"n":"96.3"},{"t":"2020-01-28","v":96.88,"n":"96.88"},{"t":"2020-01-28","v":97.35,"n":"97.35"},{"t":"2020-01-28","v":97.82,"n":"97.82"},{"t":"2020-01-28","v":98.48,"n":"98.48"},{"t":"2020-01-28","v":99.33,"n":"99.33"}],
"ma":[{"t":"2019-02-01","v":95.057},{"t":"2019-02-04","v":95.073},{"t":"2019-02-08","v":95.162},{"t":"2019-02-11","v":95.187},{"t":"2019-02-15","v":95.265},{"t":"2019-02-18","v":95.288},{"t":"2019-02-22","v":95.359},{"t":"2019-02-25","v":95.374},{"t":"2019-03-01","v":95.424},{"t":"2019-03-04","v":95.439},{"t":"2019-03-08","v":95.491},{"t":"2019-03-11","v":95.511},{"t":"2019-03-15","v":95.564},{"t":"2019-03-18","v":95.582},{"t":"2019-03-22","v":95.62},{"t":"2019-03-25","v":95.627},{"t":"2019-03-29","v":95.665},{"t":"2019-04-01","v":95.677},{"t":"2019-04-05","v":95.725},{"t":"2019-04-08","v":95.733},{"t":"2019-04-12","v":95.778},{"t":"2019-04-15","v":95.789},{"t":"2019-04-19","v":95.834},{"t":"2019-04-22","v":95.843},{"t":"2019-04-26","v":95.911},{"t":"2019-04-29","v":95.924},{"t":"2019-05-03","v":95.982},{"t":"2019-05-06","v":95.997},{"t":"2019-05-10","v":96.054},{"t":"2019-05-13","v":96.072},{"t":"2019-05-17","v":96.11},{"t":"2019-05-20","v":96.135},{"t":"2019-05-24","v":96.165},{"t":"2019-05-27","v":96.175},{"t":"2019-05-31","v":96.2},{"t":"2019-06-03","v":96.22},{"t":"2019-06-07","v":96.258},{"t":"2019-06-10","v":96.272},{"t":"2019-06-14","v":96.314},{"t":"2019-06-17","v":96.319},{"t":"2019-06-20","v":96.344},{"t":"2019-06-24","v":96.352},{"t":"2019-06-28","v":96.374},{"t":"2019-07-01","v":96.387},{"t":"2019-07-05","v":96.442},{"t":"2019-07-08","v":96.457},{"t":"2019-07-11","v":96.491},{"t":"2019-07-15","v":96.506},{"t":"2019-07-19","v":96.53},{"t":"2019-07-22","v":96.536},{"t":"2019-07-26","v":96.593},{"t":"2019-07-29","v":96.604},{"t":"2019-08-02","v":96.651},{"t":"2019-08-05","v":96.654},{"t":"2019-08-08","v":96.673},{"t":"2019-08-12","v":96.679},{"t":"2019-08-16","v":96.714},{"t":"2019-08-20","v":96.734},{"t":"2019-08-22","v":96.744},{"t":"2019-08-26","v":96.752},{"t":"2019-08-30","v":96.789},{"t":"2019-09-02","v":96.805},{"t":"2019-09-05","v":96.827},{"t":"2019-09-09","v":96.838},{"t":"2019-09-13","v":96.872},{"t":"2019-09-16","v":96.877},{"t":"2019-09-19","v":96.895},{"t":"2019-09-23","v":96.903},{"t":"2019-09-27","v":96.937},{"t":"2019-09-30","v":96.948},{"t":"2019-10-04","v":96.998},{"t":"2019-10-07","v":97.008},{"t":"2019-10-11","v":97.058},{"t":"2019-10-14","v":97.072},{"t":"2019-10-18","v":97.121},{"t":"2019-10-22","v":97.129},{"t":"2019-10-25","v":97.167},{"t":"2019-10-28","v":97.174},{"t":"2019-11-01","v":97.2},{"t":"2019-11-04","v":97.204},{"t":"2019-11-09","v":97.26},{"t":"2019-11-12","v":97.275},{"t":"2019-11-15","v":97.317},{"t":"2019-11-18","v":97.325},{"t":"2019-11-24","v":97.348},{"t":"2019-11-29","v":97.393},{"t":"2019-12-02","v":97.4},{"t":"2019-12-06","v":97.435},{"t":"2019-12-12","v":97.441},{"t":"2019-12-17","v":97.438},{"t":"2019-12-20","v":97.438},{"t":"2019-12-27","v":97.461},{"t":"2019-12-31","v":97.461},{"t":"2020-01-07","v":97.465},{"t":"2020-01-16","v":97.471},{"t":"2020-01-21","v":97.486},{"t":"2020-01-28","v":97.503}],
"trend":[{"t":"2019-11-01","v":97.04,"k":"a"},{"t":"2020-01-28","v":97.83,"k":"a"},{"t":"2019-12-30","v":96.41,"k":"b"},{"t":"2020-01-28","v":97.82,"k":"b"}]
},
"encoding":{"x":{"field":"t","type":"temporal","scale":{"type":"utc","domain":[1547425728000,1581733440000],"nice":false,"padding":0},"axis":{"values":[1554076800000,1561939200000,1569888000000,1577836800000],"format":"%b %Y","grid":true,"gridColor":"#ebebeb","gridWidth":2.2,"domain":false,"labelFontSize":23.5,"labelColor":"#4d4d4d","labelFont":"Liberation Sans","tickColor":"#333333","tickWidth":2,"tickSize":7,"labelPadding":6,"title":null}}},
"layer":[
{"data":{"name":"minory"},"mark":{"type":"rule","color":"#ebebeb","strokeWidth":1.2},"encoding":{"x":null,"y":{"field":"v","type":"quantitative","scale":{"domain":[94.404,99.57],"nice":false,"zero":false},"axis":{"values":[95,96,97,98,99],"format":"d","grid":true,"gridColor":"#ebebeb","gridWidth":2.2,"domain":false,"labelFontSize":23.5,"labelColor":"#4d4d4d","labelFont":"Liberation Sans","tickColor":"#333333","tickWidth":2,"tickSize":7,"labelPadding":6,"title":"Dollar Index","titleFontSize":28,"titleFontWeight":"normal","titleColor":"#000000","titleFont":"Liberation Sans","titlePadding":12}}}},
{"data":{"name":"minorx"},"mark":{"type":"rule","color":"#ebebeb","strokeWidth":1.2},"encoding":{}},
{"data":{"name":"band"},"mark":{"type":"rect","color":"#000000","opacity":0.11},"encoding":{"x":null,"y":{"field":"lo","type":"quantitative"},"y2":{"field":"hi"}}},
{"data":{"name":"letters"},"transform":[{"filter":"datum.g=='w'"}],"mark":{"type":"text","font":"Lato","fontWeight":300,"fontSize":340,"align":"center","baseline":"alphabetic","color":"#ffffff","stroke":"#ffffff","strokeWidth":8},"encoding":{"y":{"field":"v","type":"quantitative"},"text":{"field":"s"}}},
{"data":{"name":"letters"},"transform":[{"filter":"datum.g=='c'"}],"mark":{"type":"text","font":"Lato","fontWeight":300,"fontSize":340,"align":"center","baseline":"alphabetic","color":"#e1f8fd","stroke":"#e1f8fd","strokeWidth":8},"encoding":{"y":{"field":"v","type":"quantitative"},"text":{"field":"s"}}},
{"data":{"name":"logo"},"mark":{"type":"arc","innerRadius":72,"outerRadius":89,"theta":0,"theta2":6.2832,"color":"#ffffff"},"encoding":{"y":{"field":"v","type":"quantitative"}}},
{"data":{"name":"logo"},"mark":{"type":"arc","innerRadius":52,"outerRadius":70,"theta":1.57,"theta2":6.6,"color":"#e1f8fd"},"encoding":{"y":{"field":"v","type":"quantitative"}}},
{"data":{"name":"logo"},"mark":{"type":"arc","innerRadius":17,"outerRadius":50,"theta":0,"theta2":6.2832,"color":"#ffffff"},"encoding":{"y":{"field":"v","type":"quantitative"}}},
{"data":{"name":"logo"},"mark":{"type":"arc","innerRadius":33,"outerRadius":52,"theta":1.57,"theta2":3.14,"color":"#dce8de"},"encoding":{"y":{"field":"v","type":"quantitative"}}},
{"data":{"name":"ribbon"},"mark":{"type":"area","color":"#00ff00","opacity":0.11},"encoding":{"y":{"field":"m","type":"quantitative"},"y2":{"field":"u"}}},
{"data":{"name":"ribbon"},"mark":{"type":"area","color":"#0000ff","opacity":0.115},"encoding":{"y":{"field":"b","type":"quantitative"},"y2":{"field":"m"}}},
{"data":{"name":"candles"},"mark":{"type":"rule","color":"#000000","strokeWidth":1.8},"encoding":{"y":{"field":"l","type":"quantitative"},"y2":{"field":"h"}}},
{"data":{"name":"candles"},"mark":{"type":"bar","size":6},"encoding":{"y":{"field":"o","type":"quantitative"},"y2":{"field":"c"},"color":{"field":"s","type":"nominal","legend":null,"scale":{"domain":["u","d"],"range":["#00ff00","#ff0000"]}}}},
{"data":{"name":"pivots"},"transform":[{"filter":"datum.k=='hi'"}],"mark":{"type":"rule","color":"#0000ff","opacity":0.25,"strokeWidth":2.5},"encoding":{"x2":{"field":"t2"},"y":{"field":"v","type":"quantitative"}}},
{"data":{"name":"pivots"},"transform":[{"filter":"datum.k=='lo'"}],"mark":{"type":"rule","color":"#ff0000","opacity":0.25,"strokeWidth":2.5},"encoding":{"x2":{"field":"t2"},"y":{"field":"v","type":"quantitative"}}},
{"data":{"name":"levels"},"mark":{"type":"rule","color":"#000000","opacity":0.8,"strokeWidth":2.6,"strokeDash":[12,11]},"encoding":{"x2":{"field":"t2"},"y":{"field":"v","type":"quantitative"}}},
{"data":{"name":"ma"},"mark":{"type":"line","color":"#0000ff","opacity":0.5,"strokeWidth":5},"encoding":{"y":{"field":"v","type":"quantitative"}}},
{"data":{"name":"trend"},"transform":[{"filter":"datum.k=='a'"}],"mark":{"type":"line","color":"#000000","opacity":0.5,"strokeWidth":5},"encoding":{"y":{"field":"v","type":"quantitative"}}},
{"data":{"name":"trend"},"transform":[{"filter":"datum.k=='b'"}],"mark":{"type":"line","color":"#00e000","opacity":0.5,"strokeWidth":5},"encoding":{"y":{"field":"v","type":"quantitative"}}},
{"data":{"name":"pivots"},"transform":[{"filter":"datum.k=='hi'"}],"mark":{"type":"text","color":"#0000ff","fontSize":15,"angle":315,"dx":-1.5,"dy":-15.6,"font":"Liberation Sans"},"encoding":{"y":{"field":"v","type":"quantitative"},"text":{"field":"n"}}},
{"data":{"name":"pivots"},"transform":[{"filter":"datum.k=='lo'"}],"mark":{"type":"text","color":"#ff0000","fontSize":15,"angle":315,"dx":-20.5,"dy":6.4,"font":"Liberation Sans"},"encoding":{"y":{"field":"v","type":"quantitative"},"text":{"field":"n"}}},
{"data":{"name":"levelLabels"},"mark":{"type":"text","color":"#000000","fontSize":24,"align":"right","dy":27,"font":"Liberation Sans"},"encoding":{"y":{"field":"v","type":"quantitative"},"text":{"field":"n"}}}
]}
